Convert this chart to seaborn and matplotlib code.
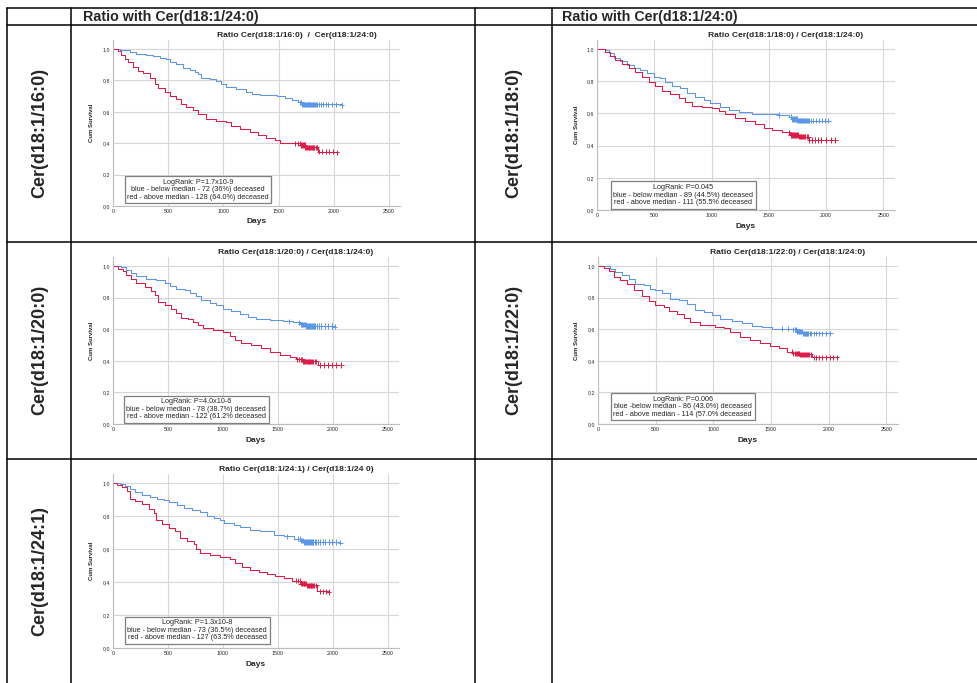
import numpy as np
import pandas as pd
import seaborn as sns
import matplotlib.pyplot as plt
from matplotlib.lines import Line2D
from matplotlib.ticker import FuncFormatter

# ---- values (days, cumulative survival) ----
# Cer(d18:1/16:0)
B16_T = [0, 60, 151, 212, 302, 363, 423, 484, 514, 574, 635, 695, 741, 771, 801, 877, 937, 982, 1028, 1118, 1209, 1255, 1330, 1481, 1557, 1617, 1678, 1708, 2070]
B16_S = [1.0, 0.994, 0.984, 0.966, 0.962, 0.955, 0.94, 0.934, 0.915, 0.902, 0.881, 0.866, 0.856, 0.839, 0.817, 0.809, 0.796, 0.775, 0.76, 0.745, 0.728, 0.713, 0.707, 0.701, 0.69, 0.675, 0.66, 0.648, 0.643]
R16_T = [0, 45, 76, 106, 136, 181, 227, 272, 333, 378, 408, 469, 514, 574, 620, 665, 726, 771, 846, 937, 1028, 1073, 1149, 1239, 1315, 1390, 1466, 1512, 1632, 1693, 1738, 1859, 2025]
R16_S = [1.0, 0.987, 0.962, 0.936, 0.915, 0.887, 0.86, 0.845, 0.813, 0.775, 0.749, 0.728, 0.703, 0.682, 0.648, 0.633, 0.611, 0.584, 0.554, 0.541, 0.537, 0.512, 0.488, 0.473, 0.452, 0.435, 0.42, 0.403, 0.399, 0.389, 0.374, 0.346, 0.342]
B16_CENS = [1690, 1705, 1715, 1722, 1728, 1735, 1742, 1748, 1755, 1762, 1768, 1775, 1782, 1788, 1795, 1802, 1808, 1815, 1822, 1830, 1840, 1850, 1865, 1880, 1900, 1925, 1950, 1985, 2020, 2070]
R16_CENS = [1650, 1672, 1690, 1702, 1712, 1720, 1728, 1735, 1742, 1750, 1757, 1764, 1771, 1778, 1785, 1792, 1800, 1808, 1816, 1825, 1835, 1845, 1870, 1895, 1925, 1955, 1990, 2025]

# Cer(d18:1/18:0)
B18_T = [0, 73, 102, 146, 204, 262, 320, 378, 437, 495, 553, 597, 655, 728, 786, 859, 932, 990, 1077, 1150, 1237, 1354, 1499, 1587, 1674, 1703, 1747, 2023]
B18_S = [1.0, 0.994, 0.973, 0.946, 0.925, 0.901, 0.88, 0.87, 0.849, 0.828, 0.818, 0.793, 0.772, 0.756, 0.725, 0.704, 0.683, 0.663, 0.642, 0.621, 0.607, 0.598, 0.594, 0.59, 0.58, 0.565, 0.555, 0.553]
R18_T = [0, 73, 116, 160, 218, 277, 335, 393, 451, 509, 568, 640, 713, 771, 830, 917, 1004, 1063, 1121, 1208, 1296, 1383, 1456, 1528, 1616, 1689, 1761, 1849, 2082]
R18_S = [1.0, 0.983, 0.959, 0.932, 0.905, 0.884, 0.855, 0.828, 0.797, 0.772, 0.739, 0.718, 0.698, 0.669, 0.648, 0.64, 0.631, 0.615, 0.594, 0.573, 0.555, 0.534, 0.511, 0.497, 0.482, 0.466, 0.455, 0.435, 0.429]
B18_CENS = [1590, 1690, 1705, 1715, 1722, 1730, 1737, 1744, 1751, 1758, 1765, 1772, 1779, 1786, 1793, 1800, 1807, 1815, 1823, 1832, 1842, 1855, 1870, 1890, 1915, 1940, 1965, 1990, 2020]
R18_CENS = [1675, 1692, 1705, 1714, 1722, 1730, 1738, 1746, 1754, 1762, 1770, 1778, 1786, 1794, 1802, 1810, 1820, 1830, 1842, 1855, 1875, 1900, 1930, 1960, 2000, 2040, 2080]

# Cer(d18:1/20:0)
B20_T = [0, 76, 121, 167, 212, 303, 394, 470, 515, 576, 652, 697, 758, 803, 879, 939, 1000, 1076, 1152, 1227, 1303, 1424, 1545, 1636, 1697, 1758, 2015]
B20_S = [1.0, 0.994, 0.977, 0.956, 0.935, 0.92, 0.91, 0.893, 0.872, 0.857, 0.847, 0.826, 0.809, 0.784, 0.763, 0.752, 0.731, 0.716, 0.695, 0.679, 0.666, 0.658, 0.651, 0.643, 0.632, 0.62, 0.616]
R20_T = [0, 45, 91, 121, 167, 212, 288, 348, 379, 409, 470, 530, 576, 621, 682, 727, 773, 818, 909, 1000, 1061, 1106, 1167, 1258, 1348, 1424, 1515, 1606, 1667, 1727, 1864, 2076]
R20_S = [1.0, 0.983, 0.968, 0.941, 0.92, 0.893, 0.868, 0.842, 0.815, 0.773, 0.752, 0.731, 0.704, 0.674, 0.662, 0.647, 0.626, 0.605, 0.595, 0.584, 0.557, 0.532, 0.515, 0.5, 0.479, 0.458, 0.437, 0.422, 0.41, 0.397, 0.374, 0.374]
B20_CENS = [1600, 1690, 1705, 1715, 1722, 1730, 1737, 1744, 1751, 1758, 1765, 1772, 1779, 1786, 1793, 1800, 1808, 1816, 1825, 1835, 1850, 1870, 1895, 1925, 1955, 1990, 2015]
R20_CENS = [1675, 1692, 1705, 1714, 1722, 1730, 1738, 1746, 1754, 1762, 1770, 1778, 1786, 1794, 1802, 1810, 1820, 1832, 1845, 1880, 1915, 1950, 1990, 2030, 2076]

# Cer(d18:1/22:0)
B22_T = [0, 78, 107, 150, 208, 266, 324, 396, 454, 497, 555, 627, 699, 772, 844, 916, 988, 1061, 1162, 1249, 1335, 1422, 1509, 1653, 1725, 1769, 2014]
B22_S = [1.0, 0.998, 0.983, 0.962, 0.941, 0.92, 0.889, 0.878, 0.857, 0.847, 0.83, 0.794, 0.784, 0.758, 0.72, 0.71, 0.689, 0.662, 0.651, 0.637, 0.62, 0.611, 0.603, 0.599, 0.584, 0.574, 0.574]
R22_T = [0, 49, 92, 136, 194, 251, 309, 382, 439, 497, 569, 613, 685, 743, 801, 887, 1017, 1090, 1147, 1234, 1321, 1408, 1494, 1566, 1639, 1682, 1754, 1855, 2072]
R22_S = [1.0, 0.99, 0.968, 0.931, 0.91, 0.884, 0.847, 0.809, 0.779, 0.752, 0.742, 0.716, 0.695, 0.668, 0.647, 0.626, 0.616, 0.605, 0.584, 0.553, 0.532, 0.511, 0.494, 0.479, 0.458, 0.447, 0.441, 0.422, 0.422]
B22_CENS = [1600, 1650, 1695, 1710, 1720, 1728, 1736, 1744, 1752, 1760, 1768, 1776, 1784, 1792, 1800, 1808, 1816, 1825, 1835, 1850, 1870, 1895, 1920, 1945, 1975, 2014]
R22_CENS = [1680, 1695, 1706, 1715, 1723, 1731, 1739, 1747, 1755, 1763, 1771, 1779, 1787, 1795, 1803, 1812, 1822, 1833, 1845, 1870, 1895, 1920, 1945, 1975, 2010, 2040, 2072]

# Cer(d18:1/24:1)
B241_T = [0, 67, 112, 158, 203, 264, 339, 400, 461, 506, 582, 642, 718, 794, 855, 915, 976, 1006, 1097, 1158, 1248, 1339, 1461, 1552, 1642, 1703, 1733, 2067]
B241_S = [1.0, 0.996, 0.984, 0.964, 0.943, 0.929, 0.915, 0.903, 0.895, 0.883, 0.869, 0.848, 0.838, 0.822, 0.802, 0.788, 0.774, 0.758, 0.747, 0.731, 0.717, 0.707, 0.687, 0.677, 0.663, 0.65, 0.642, 0.638]
R241_T = [0, 36, 82, 127, 158, 203, 264, 324, 370, 394, 445, 506, 567, 612, 673, 733, 758, 794, 885, 976, 1067, 1112, 1173, 1248, 1324, 1400, 1476, 1552, 1627, 1703, 1764, 1855, 1961]
R241_S = [1.0, 0.99, 0.976, 0.949, 0.903, 0.889, 0.875, 0.842, 0.818, 0.778, 0.754, 0.727, 0.707, 0.667, 0.646, 0.632, 0.6, 0.576, 0.562, 0.552, 0.539, 0.515, 0.491, 0.475, 0.463, 0.451, 0.434, 0.422, 0.408, 0.39, 0.38, 0.343, 0.339]
B241_CENS = [1580, 1680, 1698, 1710, 1718, 1726, 1734, 1742, 1750, 1758, 1766, 1774, 1782, 1790, 1798, 1806, 1814, 1822, 1832, 1845, 1860, 1880, 1905, 1930, 1960, 1995, 2030, 2067]
R241_CENS = [1665, 1685, 1698, 1708, 1716, 1724, 1732, 1740, 1748, 1756, 1764, 1772, 1780, 1788, 1796, 1804, 1812, 1820, 1830, 1845, 1880, 1910, 1935, 1961]

HEADER = 'Ratio with Cer(d18:1/24:0)'
ROW_LABELS = ['Cer(d18:1/16:0)', 'Cer(d18:1/18:0)', 'Cer(d18:1/20:0)', 'Cer(d18:1/22:0)', 'Cer(d18:1/24:1)']
TITLES = ['Ratio Cer(d18:1/16:0)  /  Cer(d18:1/24:0)',
          'Ratio Cer(d18:1/18:0) / Cer(d18:1/24:0)',
          'Ratio Cer(d18:1/20:0) / Cer(d18:1/24:0)',
          'Ratio Cer(d18:1/22:0) / Cer(d18:1/24:0)',
          'Ratio Cer(d18:1/24:1) / Cer(d18:1/24 0)']
NOTES = ['LogRank: P=1.7x10-9\nblue - below median - 72 (36%) deceased\nred - above median - 128 (64.0%) deceased',
         'LogRank: P=0.045\nblue - below median - 89 (44.5%) deceased\nred - above median - 111 (55.5% deceased',
         'LogRank: P=4.0x10-6\nblue - below median - 78 (38.7%) deceased\nred - above median - 122 (61.2% deceased',
         'LogRank: P=0.006\nblue -below median - 86 (43.0%) deceased\nred - above median - 114 (57.0% deceased',
         'LogRank: P=1.3x10-8\nblue - below median - 73 (36.5%) deceased\nred - above median - 127 (63.5% deceased']

CURVES = [(B16_T, B16_S, R16_T, R16_S, B16_CENS, R16_CENS),
          (B18_T, B18_S, R18_T, R18_S, B18_CENS, R18_CENS),
          (B20_T, B20_S, R20_T, R20_S, B20_CENS, R20_CENS),
          (B22_T, B22_S, R22_T, R22_S, B22_CENS, R22_CENS),
          (B241_T, B241_S, R241_T, R241_S, B241_CENS, R241_CENS)]

# pixel layout: day-0 x, y of 0.0, y of 1.0, px per day, note centre (days, surv)
LAYOUT = [(113, 206, 49, 0.1104, 770, 0.105),
          (597, 210, 49, 0.1145, 755, 0.093),
          (113, 424, 266, 0.1100, 756, 0.093),
          (598, 424, 266, 0.1153, 735, 0.109),
          (113, 648, 483, 0.1100, 766, 0.108)]
LABEL_POS = [(40, 133), (514, 133), (40, 350), (514, 350), (40, 571)]

BLUE = '#5a95e6'
RED = '#dc1a46'
W, H = 978, 683

sns.set_style('whitegrid')
plt.rcParams['font.family'] = ['Liberation Sans', 'DejaVu Sans']

fig = plt.figure(figsize=(W / 100, H / 100), dpi=100)


def fx(x):
    return x / W


def fy(y):
    return 1 - y / H


# table grid
for y in [8, 25, 242, 459]:
    fig.add_artist(Line2D([fx(7), 1], [fy(y), fy(y)], color='black', lw=1.1))
for x in [7, 71, 475, 552]:
    fig.add_artist(Line2D([fx(x), fx(x)], [fy(8), 0], color='black', lw=1.1))

for x in [83, 562]:
    fig.text(fx(x), fy(17), HEADER, ha='left', va='center', fontsize=10.3, weight='bold')

for (lx, ly), lab in zip(LABEL_POS, ROW_LABELS):
    fig.text(fx(lx), fy(ly), lab, rotation=90, ha='center', va='center', fontsize=13, weight='bold')

ymax = 1.055
xmax = 2600
fmt = FuncFormatter(lambda v, _: f'{v:.1f}'.replace('.', ','))

for i, (bt, bs, rt, rs, bc, rc) in enumerate(CURVES):
    x0, ybot, y1, sx, nx, ny = LAYOUT[i]
    ytop = ybot - ymax * (ybot - y1)
    width = xmax * sx
    ax = fig.add_axes([fx(x0), fy(ybot), width / W, (ybot - ytop) / H])

    df = pd.DataFrame({'days': bt + rt, 'surv': bs + rs,
                       'group': ['blue'] * len(bt) + ['red'] * len(rt)})
    sns.lineplot(data=df, x='days', y='surv', hue='group', palette={'blue': BLUE, 'red': RED},
                 drawstyle='steps-post', estimator=None, legend=False, lw=0.75, ax=ax)

    # censored cases sit on the step curve
    bcs = [bs[np.searchsorted(bt, c, side='right') - 1] for c in bc]
    rcs = [rs[np.searchsorted(rt, c, side='right') - 1] for c in rc]
    cens = pd.DataFrame({'days': bc + rc, 'surv': bcs + rcs,
                         'group': ['blue'] * len(bc) + ['red'] * len(rc)})
    sns.scatterplot(data=cens, x='days', y='surv', hue='group', palette={'blue': BLUE, 'red': RED},
                    marker='+', s=14, linewidth=0.7, legend=False, ax=ax)

    ax.set_xlim(0, xmax)
    ax.set_ylim(0, ymax)
    ax.set_xticks([0, 500, 1000, 1500, 2000, 2500])
    ax.set_yticks([0, 0.2, 0.4, 0.6, 0.8, 1.0])
    ax.yaxis.set_major_formatter(fmt)
    ax.grid(True, color='#d6d6d6', lw=0.8)
    ax.tick_params(length=0, labelsize=3.8, pad=2)
    for side in ['top', 'right']:
        ax.spines[side].set_visible(False)
    for side in ['left', 'bottom']:
        ax.spines[side].set_color('#bdbdbd')
        ax.spines[side].set_linewidth(0.8)
    ax.set_xlabel('')
    ax.set_ylabel('')

    ax.text(nx, ny, NOTES[i], ha='center', va='center', fontsize=5.2, linespacing=1.1,
            bbox=dict(boxstyle='square,pad=0.35', fc='white', ec='#7f7f7f', lw=0.9))

    cx = x0 + width / 2
    fig.text(fx(cx + 40), fy(ytop - 4.5), TITLES[i], ha='center', va='center', fontsize=6.1, weight='bold')
    fig.text(fx(cx), fy(ybot + 16), 'Days', ha='center', va='center', fontsize=6, weight='bold')
    fig.text(fx(x0 - 21), fy((ybot + ytop) / 2), 'Cum Survival', rotation=90,
             ha='center', va='center', fontsize=4.3, weight='bold')

fig.savefig('out.png', dpi=100)
